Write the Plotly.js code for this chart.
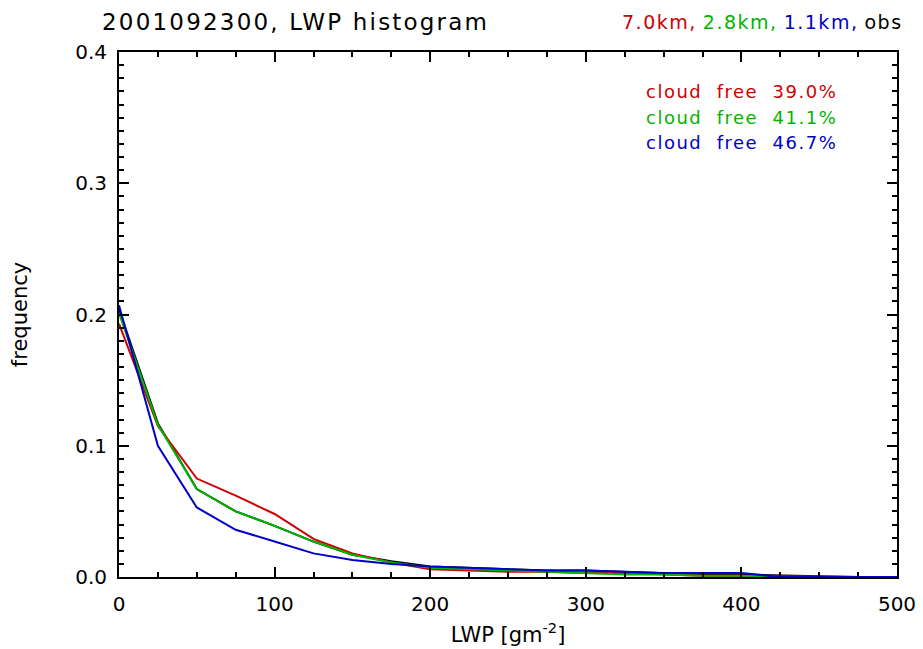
<!DOCTYPE html>
<html>
<head>
<meta charset="utf-8">
<script src="https://cdn.plot.ly/plotly-3.0.1.min.js"></script>
<style>html,body{margin:0;padding:0;background:#fff;}#chart{width:923px;height:649px;}</style>
</head>
<body>
<div id="chart"></div>
<script>
// LWP bin values [g m^-2]
var lwp = [0, 25, 50, 75, 100, 125, 150, 175, 200, 225, 250, 275, 300, 325, 350, 375, 400, 425, 450, 475, 500];
// frequency per model resolution
var freq7km  = [0.193, 0.115, 0.075, 0.062, 0.048, 0.029, 0.018, 0.011, 0.006, 0.005, 0.004, 0.004, 0.003, 0.003, 0.002, 0.001, 0.001, 0.0005, 0, 0, 0];
var freq28km = [0.201, 0.116, 0.067, 0.050, 0.039, 0.027, 0.017, 0.011, 0.007, 0.006, 0.005, 0.004, 0.003, 0.002, 0.002, 0.001, 0.001, 0, 0, 0, 0];
var freq11km = [0.207, 0.100, 0.053, 0.036, 0.027, 0.018, 0.013, 0.010, 0.008, 0.007, 0.006, 0.005, 0.005, 0.004, 0.003, 0.003, 0.003, 0, 0, 0, 0];
var freqObs  = [0.204, 0.117, 0.067, 0.050, 0.039, 0.027, 0.017, 0.012, 0.008, 0.007, 0.006, 0.005, 0.005, 0.004, 0.003, 0.002, 0.002, 0.001, 0.0005, 0, 0];
var seriesNames = ["obs", "7.0km", "2.8km", "1.1km"];
var cloudFree = ["39.0%", "41.1%", "46.7%"];

var colRed = "#cc0000", colGreen = "#00b400", colBlue = "#0000c8", colBlack = "#000000";
var font = "DejaVu Sans, Liberation Sans, sans-serif";

var traces = [
  {x: lwp, y: freqObs, name: seriesNames[0], mode: "lines", line: {color: colBlack, width: 2}},
  {x: lwp, y: freq7km, name: seriesNames[1], mode: "lines", line: {color: colRed, width: 2}},
  {x: lwp, y: freq28km, name: seriesNames[2], mode: "lines", line: {color: colGreen, width: 2}},
  {x: lwp, y: freq11km, name: seriesNames[3], mode: "lines", line: {color: colBlue, width: 2}}
];

function sp(t, color, ls) {
  return '<span style="color:' + color + ';letter-spacing:' + ls + 'px">' + t + '</span>';
}

var cfColors = [colRed, colGreen, colBlue];
var annotations = [
  {xref: "paper", yref: "paper", x: -0.0244, y: 1.058, xanchor: "left", yanchor: "middle",
   text: sp("2001092300, LWP histogram", "#000", 2.2), showarrow: false, font: {family: font, size: 23, color: "#000"}},
  {xref: "paper", yref: "paper", x: 1.0103, y: 1.058, xanchor: "right", yanchor: "middle",
   text: sp(seriesNames[1] + ",", colRed, 1.5) + " " + sp(seriesNames[2] + ",", colGreen, 1.5) + " " + sp(seriesNames[3] + ",", colBlue, 1.5) + " " + sp(seriesNames[0], "#000", 1.5),
   showarrow: false, font: {family: font, size: 19, color: "#000"}}
];
var cfY = [0.9257, 0.876, 0.8267];
for (var i = 0; i < 3; i++) {
  annotations.push({xref: "paper", yref: "paper", x: 0.926, y: cfY[i], xanchor: "right", yanchor: "middle",
    text: sp("cloud free " + cloudFree[i], cfColors[i], 1.5).replace(/ free /, "&nbsp; free&nbsp; "), showarrow: false, font: {family: font, size: 18, color: cfColors[i]}});
}

var layout = {
  width: 923, height: 649,
  margin: {l: 119, r: 26, t: 52, b: 72},
  paper_bgcolor: "#fff", plot_bgcolor: "#fff",
  showlegend: false,
  font: {family: font, size: 20, color: "#000"},
  xaxis: {
    range: [0, 500], dtick: 100, tick0: 0, ticks: "inside", ticklen: 10, tickwidth: 2, tickcolor: "#000",
    minor: {dtick: 25, ticks: "inside", ticklen: 5, tickwidth: 2, tickcolor: "#000"},
    showline: true, linecolor: "#000", linewidth: 2, mirror: "allticks",
    showgrid: false, zeroline: false,
    ticklabelstandoff: 8,
    tickfont: {family: font, size: 20},
    title: {text: "LWP [gm<sup>-2</sup>]", font: {family: font, size: 21}, standoff: 12}
  },
  yaxis: {
    range: [0, 0.4], dtick: 0.1, tick0: 0, tickformat: ".1f", ticks: "inside", ticklen: 10, tickwidth: 2, tickcolor: "#000",
    minor: {dtick: 0.01, ticks: "inside", ticklen: 5, tickwidth: 2, tickcolor: "#000"},
    showline: true, linecolor: "#000", linewidth: 2, mirror: "allticks",
    showgrid: false, zeroline: false,
    ticklabelstandoff: 6,
    tickfont: {family: font, size: 20},
    title: {text: "frequency", font: {family: font, size: 21}, standoff: 42}
  },
  annotations: annotations
};

Plotly.newPlot("chart", traces, layout, {displayModeBar: false, staticPlot: true});
</script>
</body>
</html>
